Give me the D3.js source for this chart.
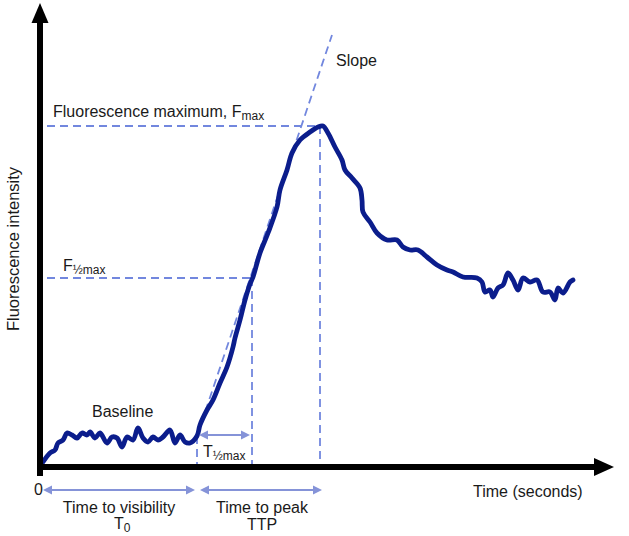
<!DOCTYPE html>
<html><head><meta charset="utf-8">
<script src="https://cdn.jsdelivr.net/npm/d3@7"></script>
<style>body{margin:0;background:#fff}svg{display:block}text{font-family:"Liberation Sans",Arial,sans-serif;fill:#1a1a1a}</style>
</head><body><svg id="c" width="629" height="536"></svg>
<script>
// ---- data (arbitrary units: time, fluorescence intensity) ----
const time = [3,10,15,18,23,27,32,37,42,47,50,55,60,67,72,77,82,87,93,98,103,108,113,118,123,130,135,140,145,150,157,160,167,173,180,187,193,195,200,205,210,213,220,228,237,240,247,252,260,270,278,283,288,295,302,305,312,320,322,323,330,337,347,357,363,370,378,387,397,407,413,423,437,442,445,450,453,458,463,468,473,478,483,490,497,503,510,515,518,523,530,533];
const intensity = [5,14,17,24,27,34,32,29,34,32,35,29,34,24,30,29,20,30,27,39,29,25,30,27,30,37,24,32,25,24,31,42,57,67,84,100,120,129,147,167,183,190,214,234,260,277,297,314,327,335,340,341,334,320,307,297,289,279,267,255,245,234,227,227,220,217,217,210,202,197,195,190,189,185,175,177,170,179,182,194,187,177,189,185,187,175,175,167,179,174,185,187];
const T0 = 157, Thalf = 212, TTP = 280;
const Fmax = 341, Fhalf = 189, Fbase = 31;
const slopeTime = [157, 292];
const slopeValue = [31, 432];
const xTicks = [0];

// ---- scales ----
const svg = d3.select("#c");
const x = d3.scaleLinear().domain([0, 572]).range([40, 612]);
const y = d3.scaleLinear().domain([0, 464]).range([467, 3]);

const dashCol = "#7287de", arrowCol = "#8593d8", curveCol = "#0b1d8c";

// dashed guide lines
const g = svg.append("g").attr("stroke", dashCol).attr("stroke-width", 1.8)
  .attr("stroke-dasharray", "8,5").attr("fill", "none");
g.append("line").attr("x1", x(7)).attr("x2", x(TTP)).attr("y1", y(Fmax)).attr("y2", y(Fmax));
g.append("line").attr("x1", x(7)).attr("x2", x(Thalf)).attr("y1", y(Fhalf)).attr("y2", y(Fhalf));
g.append("line").attr("x1", x(TTP)).attr("x2", x(TTP)).attr("y1", y(Fmax)).attr("y2", y(0));
g.append("line").attr("x1", x(Thalf)).attr("x2", x(Thalf)).attr("y1", y(Fhalf)).attr("y2", y(0));
g.append("line").attr("x1", x(T0)).attr("x2", x(T0)).attr("y1", y(Fbase)).attr("y2", y(0));
g.append("line").attr("x1", x(slopeTime[0])).attr("x2", x(slopeTime[1]))
  .attr("y1", y(slopeValue[0])).attr("y2", y(slopeValue[1]));

// curve
const line = d3.line().x((d,i) => x(time[i])).y((d,i) => y(intensity[i])).curve(d3.curveCatmullRom.alpha(0.5));
svg.append("path").datum(time).attr("d", line).attr("fill", "none")
  .attr("stroke", curveCol).attr("stroke-width", 4.8).attr("stroke-linejoin", "round").attr("stroke-linecap", "round");

// axes (black thick with arrow heads)
svg.append("line").attr("x1", x(0)).attr("x2", x(0)).attr("y1", y(0) + 9).attr("y2", 20)
  .attr("stroke", "#000").attr("stroke-width", 6);
svg.append("path").attr("d", `M${x(0)},3 L${x(0)-8.5},23 L${x(0)+8.5},23 Z`).attr("fill", "#000");
svg.append("line").attr("x1", x(0) - 3).attr("x2", 596).attr("y1", y(0)).attr("y2", y(0))
  .attr("stroke", "#000").attr("stroke-width", 6);
svg.append("path").attr("d", `M614,${y(0)} L594,${y(0)-9} L594,${y(0)+9} Z`).attr("fill", "#000");

const ax = svg.append("g").attr("transform", `translate(0,${y(0)})`)
  .call(d3.axisBottom(x).tickValues(xTicks).tickSize(0).tickPadding(17).tickFormat(d3.format("d")));
ax.select(".domain").remove();
ax.selectAll("text").attr("font-size", 16).attr("dx", -2).attr("font-family", "Liberation Sans, Arial, sans-serif").attr("fill", "#1a1a1a");

// double arrows
function dArrow(x1, x2, yy) {
  const a = svg.append("g");
  a.append("line").attr("x1", x1 + 4).attr("x2", x2 - 4).attr("y1", yy).attr("y2", yy)
    .attr("stroke", arrowCol).attr("stroke-width", 1.8);
  a.append("path").attr("d", `M${x1},${yy} L${x1+9},${yy-4.5} L${x1+9},${yy+4.5} Z`).attr("fill", arrowCol);
  a.append("path").attr("d", `M${x2},${yy} L${x2-9},${yy-4.5} L${x2-9},${yy+4.5} Z`).attr("fill", arrowCol);
}
dArrow(x(3), x(T0) - 2, 490);
dArrow(x(T0) + 3, x(TTP) + 2, 490);
dArrow(x(T0) + 2, x(Thalf) - 2, y(32));

// text labels
function label(tx, ty, main, sub, size, subSize, anchor, subDy) {
  const t = svg.append("text").attr("x", tx).attr("y", ty).attr("font-size", size)
    .attr("text-anchor", anchor || "start");
  t.append("tspan").text(main);
  if (sub) t.append("tspan").attr("font-size", subSize).attr("dy", subDy || 3).text(sub);
  return t;
}
label(53, 117, "Fluorescence maximum, F", "max", 16, 12);
label(336, 66, "Slope", null, 16);
label(63, 271, "F", "½max", 16, 12);
label(92, 417, "Baseline", null, 16);
label(203, 457, "T", "½max", 16, 12);
label(473, 497, "Time (seconds)", null, 16);
label(119, 513, "Time to visibility", null, 16, 0, "middle");
label(114, 529, "T", "0", 16, 12, "start", 2.5);
label(262, 513, "Time to peak", null, 16, 0, "middle");
label(262, 530, "TTP", null, 16, 0, "middle");
svg.append("text").attr("transform", "translate(19,249) rotate(-90)").attr("text-anchor", "middle")
  .attr("font-size", 16.5).text("Fluorescence intensity");
</script></body></html>
